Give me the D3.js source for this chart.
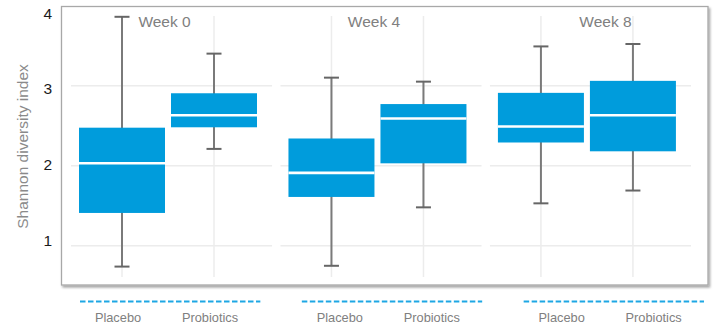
<!DOCTYPE html>
<html>
<head>
<meta charset="utf-8">
<script src="https://cdn.jsdelivr.net/npm/d3@7"></script>
<style>
  html, body { margin: 0; padding: 0; background: #fff; }
  svg { display: block; font-family: "Liberation Sans", Arial, sans-serif; }
</style>
</head>
<body>
<svg id="chart" width="716" height="327"></svg>
<script>
// Shannon diversity by week and treatment arm
const weeks = ["Week 0", "Week 4", "Week 8"];
const groups = ["Placebo", "Probiotics"];
// one entry per week × group, in order: W0 Placebo, W0 Probiotics, W4 Placebo, ...
const minVals    = [0.74, 2.21, 0.75, 1.48, 1.53, 1.69];
const q1Vals     = [1.41, 2.48, 1.61, 2.03, 2.29, 2.18];
const medianVals = [2.03, 2.63, 1.91, 2.59, 2.49, 2.63];
const q3Vals     = [2.475, 2.905, 2.34, 2.77, 2.91, 3.06];
const maxVals    = [3.86, 3.40, 3.10, 3.05, 3.49, 3.52];
const yTicks = [1, 2, 3, 4];

const boxes = [];
weeks.forEach((w, wi) => groups.forEach((g, gi) => {
  const i = wi * groups.length + gi;
  boxes.push({ week: w, group: g, min: minVals[i], q1: q1Vals[i], median: medianVals[i], q3: q3Vals[i], max: maxVals[i] });
}));

const svg = d3.select("#chart");

const boxFill = "#009cdc";
const gridColor = "#ececec";
const textGray = "#808080";

// outer frame
const frame = { x0: 61.5, y0: 6.5, x1: 708, y1: 285 };

// facet panels
const facetTop = 16, facetBottom = 277;
const fx = d3.scaleBand().domain(weeks).range([71, 691]).paddingInner(0.04);
const gx = d3.scalePoint().domain(groups).range([51, 143]);
const y = d3.scaleLinear().domain([0.61, 3.87]).range([facetBottom, facetTop]);
const boxW = 86, capW = 15;

// drop shadow for the frame
const defs = svg.append("defs");
const f = defs.append("filter").attr("id", "shadow").attr("x", "-5%").attr("y", "-5%").attr("width", "110%").attr("height", "115%");
f.append("feDropShadow").attr("dx", 1.5).attr("dy", 2).attr("stdDeviation", 1.2)
  .attr("flood-color", "#000").attr("flood-opacity", 0.35);

svg.append("rect")
  .attr("x", frame.x0).attr("y", frame.y0)
  .attr("width", frame.x1 - frame.x0).attr("height", frame.y1 - frame.y0)
  .attr("fill", "#fff").attr("stroke", "#a8a8a8").attr("stroke-width", 1.3)
  .attr("filter", "url(#shadow)");

const facets = svg.selectAll("g.facet").data(weeks).join("g")
  .attr("class", "facet")
  .attr("transform", d => `translate(${fx(d)},0)`);

// horizontal grid
facets.each(function () {
  d3.select(this).selectAll("line.hgrid").data([1, 2, 3]).join("line")
    .attr("class", "hgrid")
    .attr("x1", 0).attr("x2", fx.bandwidth())
    .attr("y1", d => y(d)).attr("y2", d => y(d))
    .attr("stroke", gridColor).attr("stroke-width", 1.5);
  d3.select(this).selectAll("line.vgrid").data(groups).join("line")
    .attr("class", "vgrid")
    .attr("x1", d => gx(d)).attr("x2", d => gx(d))
    .attr("y1", facetTop).attr("y2", facetBottom)
    .attr("stroke", gridColor).attr("stroke-width", 1.5);
});

// facet titles
const titleNudge = [-7, -7, 15];
facets.append("text")
  .attr("x", (d, i) => fx.bandwidth() / 2 + titleNudge[i])
  .attr("y", 26.5)
  .attr("text-anchor", "middle")
  .attr("font-size", 15.5)
  .attr("fill", textGray)
  .text(d => d);

// box plots
const bx = d => fx(d.week) + gx(d.group);
const bg = svg.selectAll("g.box").data(boxes).join("g").attr("class", "box");

bg.append("line")
  .attr("x1", bx).attr("x2", bx)
  .attr("y1", d => y(d.min)).attr("y2", d => y(d.max))
  .attr("stroke", "#7a7a7a").attr("stroke-width", 2);
bg.append("line")
  .attr("x1", d => bx(d) - capW / 2).attr("x2", d => bx(d) + capW / 2)
  .attr("y1", d => y(d.max)).attr("y2", d => y(d.max))
  .attr("stroke", "#666").attr("stroke-width", 2);
bg.append("line")
  .attr("x1", d => bx(d) - capW / 2).attr("x2", d => bx(d) + capW / 2)
  .attr("y1", d => y(d.min)).attr("y2", d => y(d.min))
  .attr("stroke", "#666").attr("stroke-width", 2);
bg.append("rect")
  .attr("x", d => bx(d) - boxW / 2).attr("width", boxW)
  .attr("y", d => y(d.q3)).attr("height", d => y(d.q1) - y(d.q3))
  .attr("fill", boxFill);
bg.append("line")
  .attr("x1", d => bx(d) - boxW / 2).attr("x2", d => bx(d) + boxW / 2)
  .attr("y1", d => y(d.median)).attr("y2", d => y(d.median))
  .attr("stroke", "#fff").attr("stroke-width", 2.6);

// y tick labels
const yLab = d3.scaleLinear().domain([1, 4]).range([240, 13.3]);
svg.append("g").selectAll("text").data(yTicks).join("text")
  .attr("x", 52).attr("y", d => yLab(d))
  .attr("dy", "0.36em")
  .attr("text-anchor", "end")
  .attr("font-size", 15.5)
  .attr("fill", "#1a1a1a")
  .text(d => d);

// y axis title
svg.append("text")
  .attr("transform", "translate(28,146.5) rotate(-90)")
  .attr("text-anchor", "middle")
  .attr("font-size", 15.5)
  .attr("fill", "#8a8a8a")
  .text("Shannon diversity index");

// bottom category rows with dashed brackets
const bx2 = d3.scaleBand().domain(weeks).range([80, 704]).paddingInner(0.187);
const gx2 = d3.scalePoint().domain(groups).range([38, 130]);
const rows = svg.selectAll("g.row").data(weeks).join("g")
  .attr("class", "row")
  .attr("transform", d => `translate(${bx2(d)},0)`);
rows.append("line")
  .attr("x1", 0).attr("x2", bx2.bandwidth())
  .attr("y1", 301.5).attr("y2", 301.5)
  .attr("stroke", "#1ea7e4").attr("stroke-width", 2)
  .attr("stroke-dasharray", "5.5,2.5");
rows.selectAll("text").data(groups).join("text")
  .attr("x", d => gx2(d)).attr("y", 321.5)
  .attr("text-anchor", "middle")
  .attr("font-size", 12.8)
  .attr("fill", textGray)
  .text(d => d);
</script>
</body>
</html>
